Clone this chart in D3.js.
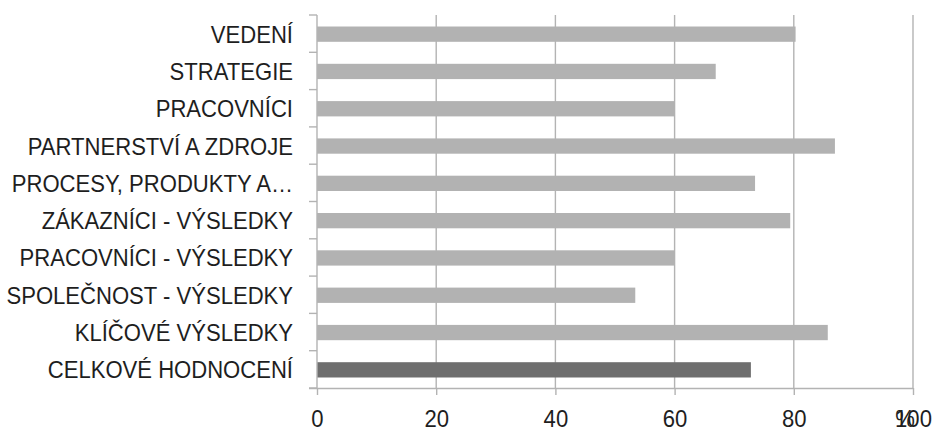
<!DOCTYPE html>
<html>
<head>
<meta charset="utf-8">
<script src="https://cdn.jsdelivr.net/npm/d3@7"></script>
<style>
  html, body { margin: 0; padding: 0; background: #fff; }
  svg { display: block; }
  text { font-family: "Liberation Sans", Arial, sans-serif; fill: #1e1e1e; }
</style>
</head>
<body>
<script>
// Assessment areas, top to bottom
const categories = [
  "VEDENÍ",
  "STRATEGIE",
  "PRACOVNÍCI",
  "PARTNERSTVÍ A ZDROJE",
  "PROCESY, PRODUKTY A…",
  "ZÁKAZNÍCI - VÝSLEDKY",
  "PRACOVNÍCI - VÝSLEDKY",
  "SPOLEČNOST - VÝSLEDKY",
  "KLÍČOVÉ VÝSLEDKY",
  "CELKOVÉ HODNOCENÍ"
];
// Score in percent for each area
const values = [80.3, 66.9, 60, 86.9, 73.5, 79.4, 60, 53.4, 85.7, 72.8];
// The overall score is highlighted
const highlighted = ["CELKOVÉ HODNOCENÍ"];
const xTicks = [0, 20, 40, 60, 80, 100];
const unitLabel = "%";

const W = 933, H = 427;
const svg = d3.select("body").append("svg").attr("width", W).attr("height", H);

const x = d3.scaleLinear().domain([0, 100]).range([317, 913]);
const y = d3.scaleBand().domain(categories).range([15, 388]).padding(0);

const gridColor = "#b3b3b3";
const fontSize = 24.4;
const squeeze = 0.905;

// vertical gridlines
svg.append("g").selectAll("line").data(xTicks.filter(d => d > 0)).join("line")
  .attr("x1", d => x(d)).attr("x2", d => x(d))
  .attr("y1", y.range()[0]).attr("y2", y.range()[1])
  .attr("stroke", gridColor).attr("stroke-width", 1.4);

// bars
const barH = y.bandwidth() * 0.41;
svg.append("g").selectAll("rect").data(categories).join("rect")
  .attr("x", x(0))
  .attr("y", d => y(d) + y.bandwidth() / 2 - barH / 2 + 0.5)
  .attr("width", (d, i) => x(values[i]) - x(0))
  .attr("height", barH)
  .attr("fill", d => highlighted.includes(d) ? "#6e6e6e" : "#b2b2b2");

// left category axis: line plus ticks on band boundaries
const left = svg.append("g");
left.append("line")
  .attr("x1", x(0)).attr("x2", x(0))
  .attr("y1", y.range()[0]).attr("y2", y.range()[1])
  .attr("stroke", gridColor).attr("stroke-width", 1.4);
const bounds = categories.map(c => y(c)).concat([y.range()[1]]);
left.selectAll("line.tk").data(bounds).join("line").attr("class", "tk")
  .attr("x1", x(0) - 8).attr("x2", x(0))
  .attr("y1", d => d).attr("y2", d => d)
  .attr("stroke", gridColor).attr("stroke-width", 1.4);
left.selectAll("text").data(categories).join("text")
  .attr("transform", d => `translate(293,${y(d) + y.bandwidth() / 2 + 9}) scale(${squeeze},1)`)
  .attr("text-anchor", "end")
  .attr("font-size", fontSize)
  .text(d => d);

// bottom value axis
const bottom = svg.append("g").attr("transform", `translate(0,${y.range()[1]})`)
  .call(d3.axisBottom(x).tickValues(xTicks).tickSize(7).tickSizeOuter(0).tickFormat(d3.format("d")));
bottom.select(".domain").attr("stroke", gridColor).attr("stroke-width", 1.4)
  .attr("d", `M${x(0) - 8},0.5H${x(100)}`);
bottom.selectAll(".tick line").attr("stroke", gridColor).attr("stroke-width", 1.4);
bottom.selectAll(".tick text")
  .attr("y", 0).attr("dy", null)
  .attr("transform", `translate(0,39) scale(${squeeze},1)`)
  .attr("font-size", fontSize)
  .attr("font-family", "Liberation Sans, Arial, sans-serif")
  .attr("fill", "#1e1e1e");

// unit label at the end of the value axis
svg.append("text")
  .attr("transform", `translate(905,427) scale(${squeeze},1)`)
  .attr("text-anchor", "middle")
  .attr("font-size", fontSize)
  .text(unitLabel);
</script>
</body>
</html>
